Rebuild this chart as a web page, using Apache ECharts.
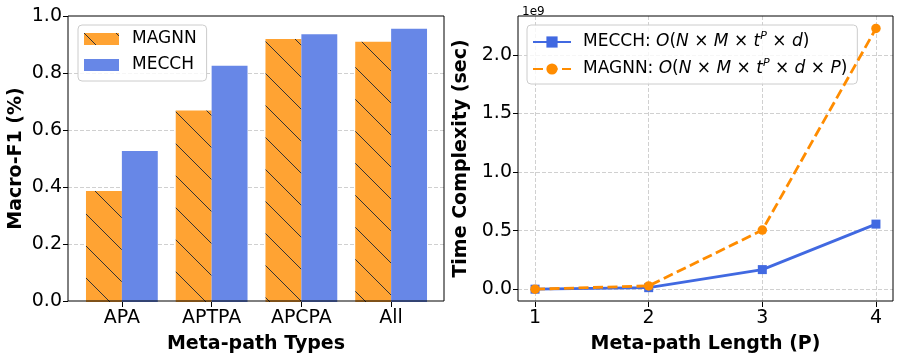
<!DOCTYPE html>
<html>
<head>
<meta charset="utf-8">
<script src="https://cdn.jsdelivr.net/npm/echarts@6/dist/echarts.min.js"></script>
<style>
  html, body { margin: 0; padding: 0; background: #fff; }
  #chart { width: 897px; height: 359px; }
</style>
</head>
<body>
<div id="chart"></div>
<script>
// left panel: macro-F1 per meta-path type
const pathTypes = ['APA', 'APTPA', 'APCPA', 'All'];
const magnnF1 = [0.388, 0.670, 0.920, 0.910];
const mecchF1 = [0.528, 0.826, 0.936, 0.955];

// right panel: time complexity vs meta-path length
const pathLengths = [1, 2, 3, 4];
const mecchCost = [0.001e9, 0.014e9, 0.168e9, 0.556e9];
const magnnCost = [0.001e9, 0.029e9, 0.505e9, 2.225e9];

const FONT = '"DejaVu Sans", sans-serif';

// hatch tile for the MAGNN bars ("\\" hatch)
function hatchTile() {
  const c = document.createElement('canvas');
  c.width = 32; c.height = 32;
  const ctx = c.getContext('2d');
  ctx.fillStyle = '#FFA333';
  ctx.fillRect(0, 0, 32, 32);
  ctx.strokeStyle = '#333';
  ctx.lineWidth = 1;
  for (let k = -1; k <= 1; k++) {
    ctx.beginPath();
    ctx.moveTo(-2, -2 + k * 32);
    ctx.lineTo(34, 34 + k * 32);
    ctx.stroke();
  }
  return c;
}

const chart = echarts.init(document.getElementById('chart'), null, { renderer: 'canvas' });

const hidden = { show: false };
const gridDash = { show: true, lineStyle: { color: '#d0d0d0', type: [4, 2], width: 1 } };
const tickStyle = { show: true, length: 5, lineStyle: { color: '#000', width: 1 } };
const labelStyle = { color: '#000', fontSize: 19, fontFamily: FONT };
const nameStyle = { color: '#000', fontSize: 19, fontWeight: 'bold', fontFamily: FONT };

const sup = { fontSize: 11, fontStyle: 'italic', fontFamily: FONT, color: '#000', verticalAlign: 'top', lineHeight: 14 };
const it = { fontSize: 17, fontStyle: 'italic', fontFamily: FONT, color: '#000' };
const rm = { fontSize: 17, fontFamily: FONT, color: '#000' };
const formulas = {
  MECCH: '{n|MECCH: }{i|O}{n|(}{i|N}{n| × }{i|M}{n| × }{i|t}{s|P}{n| × }{i|d}{n|)}',
  MAGNN: '{n|MAGNN: }{i|O}{n|(}{i|N}{n| × }{i|M}{n| × }{i|t}{s|P}{n| × }{i|d}{n| × }{i|P}{n|)}'
};

const option = {
  animation: false,
  textStyle: { fontFamily: FONT },
  title: {
    text: '1e9', left: 517, top: 1,
    textStyle: { fontSize: 12, fontWeight: 'normal', color: '#000', fontFamily: FONT }
  },
  legend: [
    {
      data: ['MAGNN', 'MECCH'],
      orient: 'vertical', left: 78, top: 25,
      icon: 'rect', itemWidth: 35, itemHeight: 12, itemGap: 4,
      padding: [3, 10, 5, 6],
      backgroundColor: 'rgba(255,255,255,0.8)',
      borderColor: '#ccc', borderWidth: 1, borderRadius: 4,
      textStyle: { fontSize: 17, color: '#000', fontFamily: FONT, lineHeight: 22, padding: [0, 0, 0, 8] }
    },
    {
      data: ['MECCH-cost', 'MAGNN-cost'],
      orient: 'vertical', left: 527, top: 25,
      itemWidth: 38, itemHeight: 14, itemGap: 5,
      padding: [6, 10, 4, 5],
      backgroundColor: 'rgba(255,255,255,0.8)',
      borderColor: '#ccc', borderWidth: 1, borderRadius: 4,
      formatter: function (name) { return formulas[name.replace('-cost', '')]; },
      textStyle: { lineHeight: 22, padding: [0, 0, 0, 7], rich: { n: rm, i: it, s: sup } }
    }
  ],
  grid: [
    { left: 68, top: 16, width: 376, height: 286, show: true, borderColor: '#000', borderWidth: 1, z: 3 },
    { left: 77, top: 16, width: 359, height: 286 },
    { left: 518, top: 16, width: 375, height: 286, show: true, borderColor: '#000', borderWidth: 1, z: 3 },
    { left: 518, top: 16, width: 375, height: 273.3 },
    { left: 535, top: 16, width: 341, height: 286 }
  ],
  xAxis: [
    {
      gridIndex: 0, type: 'value', min: 0, max: 1,
      axisLine: hidden, axisTick: hidden, axisLabel: hidden, splitLine: hidden,
      name: 'Meta-path Types', nameLocation: 'middle', nameGap: 34, nameTextStyle: nameStyle
    },
    {
      gridIndex: 1, type: 'category', data: pathTypes,
      axisLine: hidden, axisTick: Object.assign({ alignWithLabel: true }, tickStyle),
      axisLabel: Object.assign({ margin: 7 }, labelStyle), splitLine: hidden
    },
    {
      gridIndex: 2, type: 'value', min: 0, max: 1,
      axisLine: hidden, axisTick: hidden, axisLabel: hidden, splitLine: hidden,
      name: 'Meta-path Length (P)', nameLocation: 'middle', nameGap: 34, nameTextStyle: nameStyle
    },
    { gridIndex: 3, type: 'value', min: 0.85, max: 4.15, show: false },
    {
      gridIndex: 4, type: 'value', min: 1, max: 4, interval: 1,
      axisLine: hidden, axisTick: tickStyle,
      axisLabel: Object.assign({ margin: 7 }, labelStyle),
      splitLine: gridDash
    }
  ],
  yAxis: [
    {
      gridIndex: 0, type: 'value', min: 0, max: 1, interval: 0.2,
      axisLine: hidden, axisTick: tickStyle,
      axisLabel: Object.assign({ margin: 6, formatter: v => v.toFixed(1) }, labelStyle),
      splitLine: Object.assign({ showMinLine: false, showMaxLine: false }, gridDash),
      name: 'Macro-F1 (%)', nameLocation: 'middle', nameGap: 42, nameTextStyle: nameStyle
    },
    { gridIndex: 1, type: 'value', min: 0, max: 1, show: false },
    {
      gridIndex: 2, type: 'value', min: 0, max: 1,
      axisLine: hidden, axisTick: hidden, axisLabel: hidden, splitLine: hidden,
      name: 'Time Complexity (sec)', nameLocation: 'middle', nameGap: 47, nameTextStyle: nameStyle
    },
    {
      gridIndex: 3, type: 'value', min: 0, max: 2.331e9, interval: 0.5e9,
      axisLine: hidden, axisTick: tickStyle,
      axisLabel: Object.assign({ margin: 6, showMaxLabel: false, formatter: v => (v / 1e9).toFixed(1) }, labelStyle),
      splitLine: Object.assign({ showMaxLine: false }, gridDash)
    },
    { gridIndex: 4, type: 'value', min: 0, max: 1, show: false }
  ],
  series: [
    {
      name: 'MAGNN', type: 'bar', xAxisIndex: 1, yAxisIndex: 1,
      data: magnnF1, barWidth: '40%', barGap: '0%',
      itemStyle: { color: { image: hatchTile(), repeat: 'repeat' } }
    },
    {
      name: 'MECCH', type: 'bar', xAxisIndex: 1, yAxisIndex: 1,
      data: mecchF1, barWidth: '40%', barGap: '0%',
      itemStyle: { color: '#6787E7' }
    },
    {
      name: 'MECCH-cost', type: 'line', xAxisIndex: 3, yAxisIndex: 3,
      data: pathLengths.map((p, i) => [p, mecchCost[i]]),
      symbol: 'rect', symbolSize: 9, clip: false,
      lineStyle: { color: '#4169E1', width: 2.8 },
      itemStyle: { color: '#4169E1' }, z: 4
    },
    {
      name: 'MAGNN-cost', type: 'line', xAxisIndex: 3, yAxisIndex: 3,
      data: pathLengths.map((p, i) => [p, magnnCost[i]]),
      symbol: 'circle', symbolSize: 9.5, clip: false,
      lineStyle: { color: '#FF8C00', width: 2.8, type: [10, 4.5] },
      itemStyle: { color: '#FF8C00' }, z: 5
    }
  ]
};

chart.setOption(option);
window.addEventListener('resize', function () {
  chart.resize();
});
</script>
</body>
</html>
